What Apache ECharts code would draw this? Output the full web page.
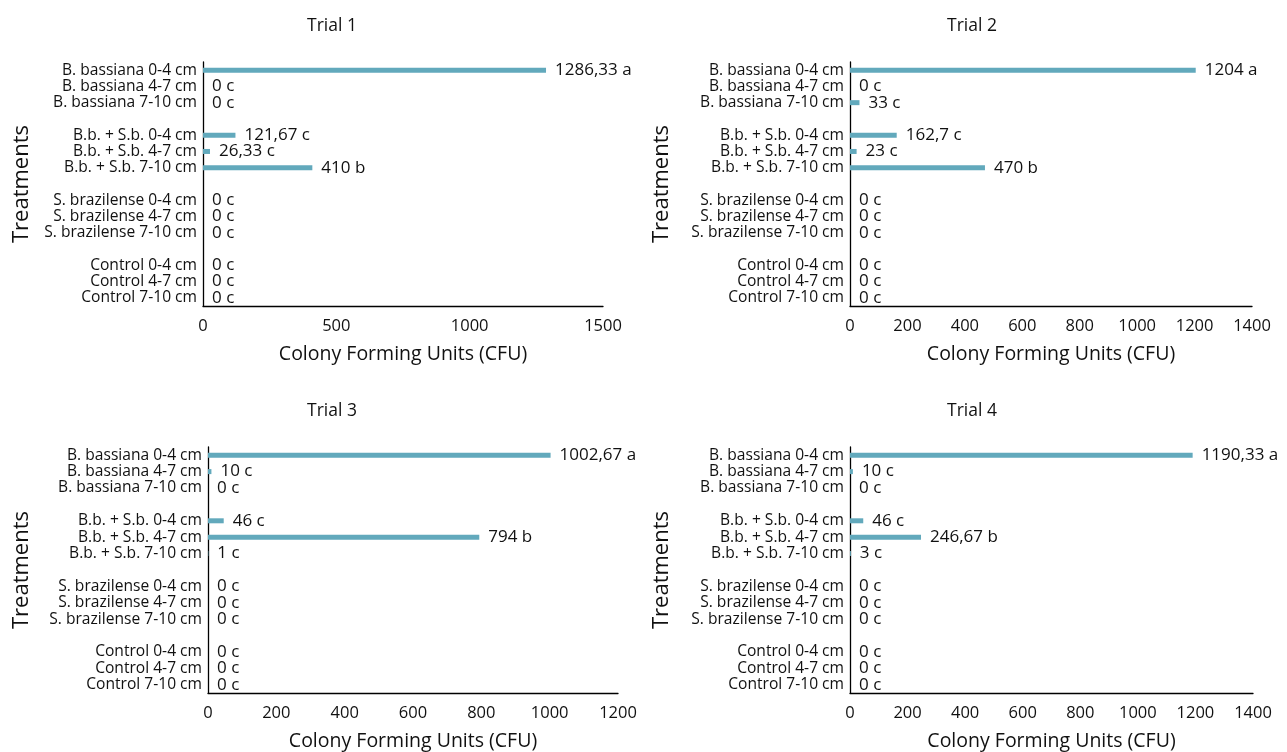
<!DOCTYPE html>
<html>
<head>
<meta charset="utf-8">
<script src="https://cdn.jsdelivr.net/npm/echarts@6/dist/echarts.min.js"></script>
<style>
html,body{margin:0;padding:0;background:#fff;}
#chart{width:1287px;height:752px;}
</style>
</head>
<body>
<div id="chart"></div>
<script>
// Treatment groups (top to bottom)
const groups = [
  ['B. bassiana 0-4 cm', 'B. bassiana 4-7 cm', 'B. bassiana 7-10 cm'],
  ['B.b. + S.b. 0-4 cm', 'B.b. + S.b. 4-7 cm', 'B.b. + S.b. 7-10 cm'],
  ['S. brazilense 0-4 cm', 'S. brazilense 4-7 cm', 'S. brazilense 7-10 cm'],
  ['Control 0-4 cm', 'Control 4-7 cm', 'Control 7-10 cm']
];
const trialTitles = ['Trial 1', 'Trial 2', 'Trial 3', 'Trial 4'];

// CFU values per trial (same order as categories)
const trial1 = [1286.33, 0, 0, 121.67, 26.33, 410, 0, 0, 0, 0, 0, 0];
const trial2 = [1204, 0, 33, 162.7, 23, 470, 0, 0, 0, 0, 0, 0];
const trial3 = [1002.67, 10, 0, 46, 794, 1, 0, 0, 0, 0, 0, 0];
const trial4 = [1190.33, 10, 0, 46, 246.67, 3, 0, 0, 0, 0, 0, 0];

// Significance letters
const letters1 = ['a','c','c','c','c','b','c','c','c','c','c','c'];
const letters2 = ['a','c','c','c','c','b','c','c','c','c','c','c'];
const letters3 = ['a','c','c','c','b','c','c','c','c','c','c','c'];
const letters4 = ['a','c','c','c','b','c','c','c','c','c','c','c'];

// X axis scales
const xMax = [1500, 1400, 1200, 1400];
const xInterval = [500, 200, 200, 200];

const trials = [trial1, trial2, trial3, trial4];
const letters = [letters1, letters2, letters3, letters4];

// Build category list with blank spacer slots between groups
const categories = [];
const slotIndex = [];
groups.forEach((g, gi) => {
  if (gi > 0) categories.push(' '.repeat(gi));
  g.forEach(c => { slotIndex.push(categories.length); categories.push(c); });
});

function slotData(vals) {
  const arr = categories.map(() => null);
  vals.forEach((v, i) => { arr[slotIndex[i]] = v; });
  return arr;
}
function slotLetters(ls) {
  const arr = categories.map(() => '');
  ls.forEach((l, i) => { arr[slotIndex[i]] = l; });
  return arr;
}

const FONT = 'Open Sans';
const grids = [
  {left: 203, top: 62, width: 400, height: 244},
  {left: 850, top: 62, width: 402, height: 244},
  {left: 208, top: 447, width: 410, height: 246},
  {left: 850, top: 447, width: 403, height: 246}
];
const titlePos = [
  {x: 327, y: 12}, {x: 967, y: 12}, {x: 327, y: 397}, {x: 967, y: 397}
];
const yNameGap = [170, 177, 175, 177];

const option = {
  backgroundColor: '#fff',
  animation: false,
  title: trialTitles.map((t, i) => ({
    text: t,
    left: titlePos[i].x,
    top: titlePos[i].y,
    textAlign: 'center',
    textStyle: {fontFamily: FONT, fontSize: 17.5, fontWeight: 'normal', color: '#111'}
  })),
  grid: grids.map(g => Object.assign({containLabel: false}, g)),
  xAxis: trials.map((t, i) => ({
    type: 'value',
    gridIndex: i,
    min: 0,
    max: xMax[i],
    interval: xInterval[i],
    name: 'Colony Forming Units (CFU)',
    nameLocation: 'middle',
    nameGap: 38,
    nameTextStyle: {fontFamily: FONT, fontSize: 19.5, color: '#111'},
    axisLine: {show: true, lineStyle: {color: '#000', width: 1.3}},
    axisTick: {show: false},
    splitLine: {show: false},
    axisLabel: {fontFamily: FONT, fontSize: 16.5, color: '#111', margin: 12,
      formatter: v => String(v)}
  })),
  yAxis: trials.map((t, i) => ({
    type: 'category',
    gridIndex: i,
    inverse: true,
    data: categories,
    name: 'Treatments',
    nameLocation: 'middle',
    nameGap: yNameGap[i],
    nameRotate: 90,
    nameTextStyle: {fontFamily: FONT, fontSize: 22, color: '#111'},
    axisLine: {show: true, lineStyle: {color: '#000', width: 1.3}},
    axisTick: {show: false},
    axisLabel: {fontFamily: FONT, fontSize: 15.6, color: '#111', margin: 6, interval: 0}
  })),
  series: trials.map((vals, i) => {
    const ls = slotLetters(letters[i]);
    return {
      type: 'bar',
      xAxisIndex: i,
      yAxisIndex: i,
      data: slotData(vals),
      barWidth: 5,
      itemStyle: {color: '#62a9bc'},
      label: {
        show: true,
        position: 'right',
        distance: 9,
        fontFamily: FONT,
        fontSize: 17,
        color: '#111',
        formatter: p => p.value == null ? '' : String(p.value).replace('.', ',') + ' ' + ls[p.dataIndex]
      }
    };
  })
};

const chart = echarts.init(document.getElementById('chart'), null, {renderer: 'canvas'});
chart.setOption(option);
</script>
</body>
</html>
